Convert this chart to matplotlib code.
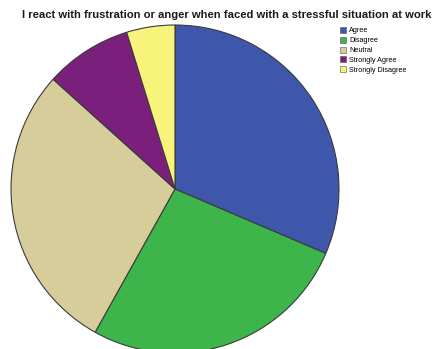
import matplotlib
matplotlib.use("Agg")
import matplotlib.pyplot as plt
from matplotlib.patches import Patch

categories = ["Agree", "Disagree", "Neutral", "Strongly Agree", "Strongly Disagree"]
counts = [33, 28, 30, 9, 5]
colors = ["#3F57AB", "#3DB54B", "#D6CD9A", "#7A1F7C", "#F8F37A"]
title = "I react with frustration or anger when faced with a stressful situation at work"

W, H = 432, 349
fig = plt.figure(figsize=(W / 100, H / 100), dpi=100)
fig.patch.set_facecolor("white")

# pie centre (175, 189) px from top-left, radius 164 px
cx, cy, r = 175, 189, 164
ax = fig.add_axes([(cx - r) / W, (H - cy - r) / H, 2 * r / W, 2 * r / H])
ax.pie(counts, colors=colors, startangle=90, counterclock=False,
       wedgeprops=dict(edgecolor="#3a3a3a", linewidth=0.8))
ax.set_xlim(-1, 1)
ax.set_ylim(-1, 1)
ax.set_aspect("auto")
ax.axis("off")

fig.text(22 / W, 1 - 15 / H, title, fontsize=8.1, fontweight="bold",
         family="Liberation Sans", ha="left", va="center", color="#1a1a1a")

handles = [Patch(facecolor=c, edgecolor="#555555", linewidth=0.4) for c in colors]
fig.legend(handles, categories, loc="upper left",
           bbox_to_anchor=(340 / W, 1 - 27 / H), frameon=False,
           prop=dict(family="Liberation Sans", size=5.2),
           handlelength=0.8, handleheight=0.9, handletextpad=0.5,
           labelspacing=0.32, borderaxespad=0, borderpad=0)

fig.savefig("out.png", dpi=100, facecolor="white")
